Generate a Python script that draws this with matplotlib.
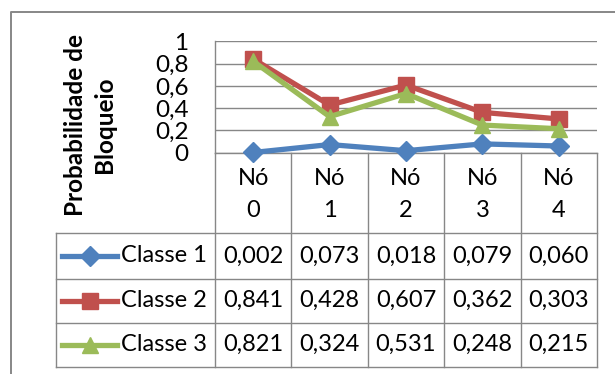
import matplotlib.pyplot as plt
from matplotlib.lines import Line2D
from matplotlib.transforms import blended_transform_factory

plt.rcParams['font.family'] = ['Lato', 'DejaVu Sans']

# blocking probability per node and traffic class
nos = ['Nó 0', 'Nó 1', 'Nó 2', 'Nó 3', 'Nó 4']
classes = ['Classe 1', 'Classe 2', 'Classe 3']
classe1 = [0.002, 0.073, 0.018, 0.079, 0.060]
classe2 = [0.841, 0.428, 0.607, 0.362, 0.303]
classe3 = [0.821, 0.324, 0.531, 0.248, 0.215]
yticks = [0, 0.2, 0.4, 0.6, 0.8, 1]

series = [classe1, classe2, classe3]
colors = ['#4F81BD', '#C0504D', '#9BBB59']
markers = ['D', 's', '^']
msizes = [10, 11, 12]
grey = '#878787'

W, H = 615, 374
fig = plt.figure(figsize=(W / 100, H / 100), dpi=100)

# pixel layout: plot area on top, data table below it
x0, x1 = 215, 597
y_top, y_axis = 41.3, 152.7
row_edges = [233.3, 278.7, 322.7, 366.7]
leg_left = 55.7

# full-figure overlay in pixel units for the frame and the table grid
tab = fig.add_axes([0, 0, 1, 1])
tab.set_xlim(0, W)
tab.set_ylim(H, 0)
tab.axis('off')

ax = fig.add_axes([x0 / W, 1 - y_axis / H, (x1 - x0) / W, (y_axis - y_top) / H])
ax.set_xlim(-0.5, len(nos) - 0.5)
ax.set_ylim(0, 1)
ax.patch.set_alpha(0)
ax.set_xticks([])
ax.set_yticks(yticks, [f'{v:g}'.replace('.', ',') for v in yticks])
ax.tick_params(axis='y', length=0, pad=19, labelsize=17.5)
ax.grid(axis='y', color=grey, lw=1)
ax.set_axisbelow(True)
for side in ['top', 'right']:
    ax.spines[side].set_visible(False)
for side in ['left', 'bottom']:
    ax.spines[side].set_color(grey)
    ax.spines[side].set_linewidth(1)

for vals, c, m, ms in zip(series, colors, markers, msizes):
    ax.plot(range(len(nos)), vals, color=c, lw=3.8, marker=m, ms=ms,
            markeredgecolor=c, clip_on=False, zorder=3)

ax.set_ylabel('Probabilidade de\nBloqueio', fontsize=17.5, fontweight='bold',
              linespacing=1.3)
ax.yaxis.label.set(ha='center', va='center')
ax.yaxis.set_label_coords(-0.327, 0.249)

# x in category units of the plot, y in pixels
tr = blended_transform_factory(ax.transData, tab.transData)

# outer chart frame (left and top edges)
tab.plot([10.7, 10.7, W], [H, 12.3, 12.3], color=grey, lw=1.4)

# table grid
for i in range(len(nos) + 1):
    tab.plot([i - 0.5, i - 0.5], [y_axis, row_edges[-1]], color=grey, lw=1,
             transform=tr)
for y in row_edges:
    tab.plot([leg_left, x1], [y, y], color=grey, lw=1)
tab.plot([leg_left, leg_left], [row_edges[0], row_edges[-1]], color=grey, lw=1)

# header cells
for i, label in enumerate(nos):
    for k, word in enumerate(label.split()):
        tab.text(i, 178 + 32 * k, word, transform=tr, ha='center', va='center',
                 fontsize=17)

# value rows with legend keys
for r, (name, vals, c, m, ms) in enumerate(zip(classes, series, colors, markers, msizes)):
    yc = (row_edges[r] + row_edges[r + 1]) / 2
    tab.add_line(Line2D([62, 117], [yc, yc], color=c, lw=3.8))
    tab.add_line(Line2D([89.5], [yc], color=c, marker=m, ms=ms, markeredgecolor=c))
    tab.text(121, yc, name, ha='left', va='center', fontsize=17)
    for i, v in enumerate(vals):
        tab.text(i, yc, f'{v:.3f}'.replace('.', ','), transform=tr,
                 ha='center', va='center', fontsize=17)

fig.savefig('out.png', dpi=100)
